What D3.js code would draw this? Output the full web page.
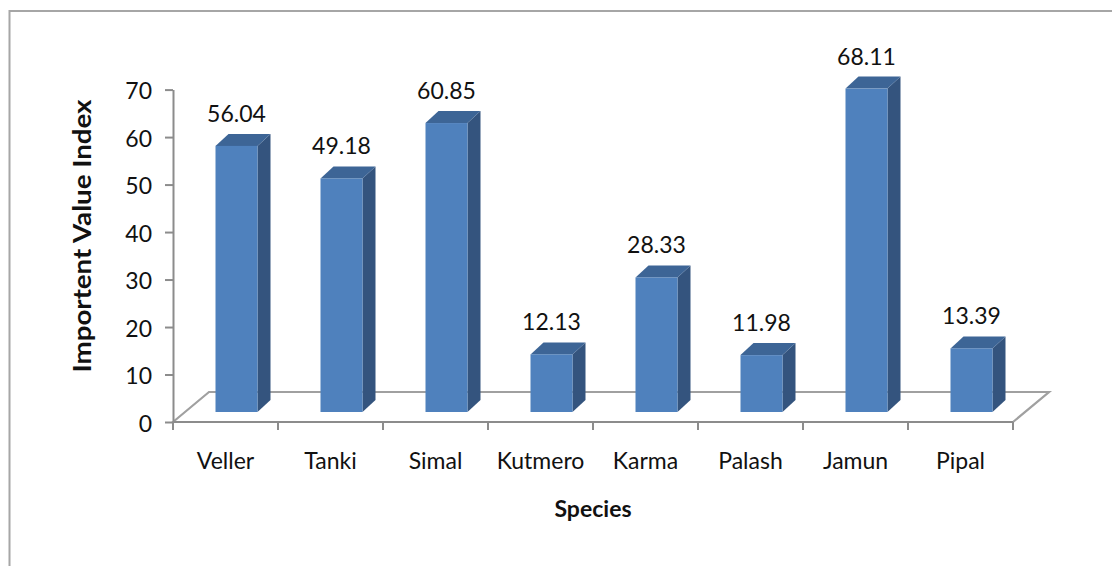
<!DOCTYPE html>
<html>
<head>
<meta charset="utf-8">
<script src="https://cdn.jsdelivr.net/npm/d3@7"></script>
<style>
  html, body { margin: 0; padding: 0; background: #fff; }
  svg { display: block; }
</style>
</head>
<body>
<svg id="chart" width="1112" height="566"></svg>
<script>
const categories = ["Veller", "Tanki", "Simal", "Kutmero", "Karma", "Palash", "Jamun", "Pipal"];
const values = [56.04, 49.18, 60.85, 12.13, 28.33, 11.98, 68.11, 13.39];
const yTicks = [0, 10, 20, 30, 40, 50, 60, 70];
const yTitle = "Importent Value Index";
const xTitle = "Species";

const FONT = "Lato, 'Liberation Sans', Arial, sans-serif";
const svg = d3.select("#chart");

// outer border (extends beyond visible area on right and bottom)
svg.append("rect").attr("x", 9.5).attr("y", 11).attr("width", 1200).attr("height", 600)
  .attr("fill", "none").attr("stroke", "#a6a6a6").attr("stroke-width", 2);

const x = d3.scaleBand().domain(categories).range([173, 1013]).paddingInner(0).paddingOuter(0);
const y = d3.scaleLinear().domain([0, 70]).range([422, 89.6]);

// floor depth
const floorDX = 36, floorDY = 30;
// bar depth position and extrusion
const barShiftX = 11, barShiftY = 10;
const extX = 13, extY = 12;

const g = svg.append("g");

// floor (closed outline; front edge is the x axis line)
const x0 = x.range()[0], x1 = x.range()[1], y0 = y(0);
g.append("path")
  .attr("d", `M${x0},${y0} L${x0 + floorDX},${y0 - floorDY} L${x1 + floorDX},${y0 - floorDY} L${x1},${y0} Z`)
  .attr("fill", "none").attr("stroke", "#a0a0a0").attr("stroke-width", 2.2);

// bars
const bw = x.bandwidth() * 0.4;
const bars = g.selectAll(".bar").data(categories.map((c, i) => ({ c, v: values[i] })))
  .enter().append("g").attr("class", "bar");

bars.each(function (d) {
  const sel = d3.select(this);
  const left = x(d.c) + (x.bandwidth() - bw) / 2 + barShiftX;
  const right = left + bw;
  const top = y(d.v) - barShiftY;
  const bottom = y(0) - barShiftY;
  sel.append("path")
    .attr("d", `M${right},${top} L${right + extX},${top - extY} L${right + extX},${bottom - extY} L${right},${bottom} Z`)
    .attr("fill", "#34547e");
  sel.append("path")
    .attr("d", `M${left},${top} L${left + extX},${top - extY} L${right + extX},${top - extY} L${right},${top} Z`)
    .attr("fill", "#3d6596");
  sel.append("rect").attr("x", left).attr("y", top).attr("width", bw).attr("height", bottom - top)
    .attr("fill", "#4f81bd");
  sel.append("text").attr("x", (left + right) / 2).attr("y", top - 24)
    .attr("text-anchor", "middle").attr("font-family", FONT).attr("font-size", 23)
    .attr("fill", "#111").text(d.v.toFixed(2));
});

// x axis front line
g.append("line").attr("x1", x0).attr("x2", x1).attr("y1", y0).attr("y2", y0)
  .attr("stroke", "#8c8c8c").attr("stroke-width", 2);

// y axis
const yAxis = g.append("g").attr("transform", `translate(${x0},0)`)
  .call(d3.axisLeft(y).tickValues(yTicks).tickSizeInner(8).tickSizeOuter(0).tickPadding(13).tickFormat(d3.format("d")));
yAxis.select(".domain").attr("stroke", "#8c8c8c").attr("stroke-width", 2);
yAxis.selectAll(".tick line").attr("stroke", "#8c8c8c").attr("stroke-width", 2);
yAxis.selectAll(".tick text").attr("font-family", FONT).attr("font-size", 23).attr("fill", "#111").attr("dy", "0.4em");

// x axis ticks at band boundaries
const bounds = categories.map(c => x(c)).concat([x1]);
g.selectAll(".xtick").data(bounds).enter().append("line")
  .attr("x1", d => d).attr("x2", d => d).attr("y1", y0).attr("y2", y0 + 8)
  .attr("stroke", "#8c8c8c").attr("stroke-width", 2);

// x axis labels
const xAxis = g.append("g").attr("transform", `translate(0,${y0})`)
  .call(d3.axisBottom(x).tickSize(0).tickPadding(31));
xAxis.select(".domain").remove();
xAxis.selectAll(".tick text").attr("font-family", FONT).attr("font-size", 23).attr("fill", "#111");

// titles
svg.append("text").attr("x", 593).attr("y", 517).attr("text-anchor", "middle")
  .attr("font-family", FONT).attr("font-weight", "bold").attr("font-size", 23).attr("fill", "#111")
  .text(xTitle);
svg.append("text").attr("transform", "translate(91,236) rotate(-90)").attr("text-anchor", "middle")
  .attr("font-family", FONT).attr("font-weight", "bold").attr("font-size", 25).attr("fill", "#111")
  .attr("textLength", 273).attr("lengthAdjust", "spacingAndGlyphs")
  .text(yTitle);
</script>
</body>
</html>
